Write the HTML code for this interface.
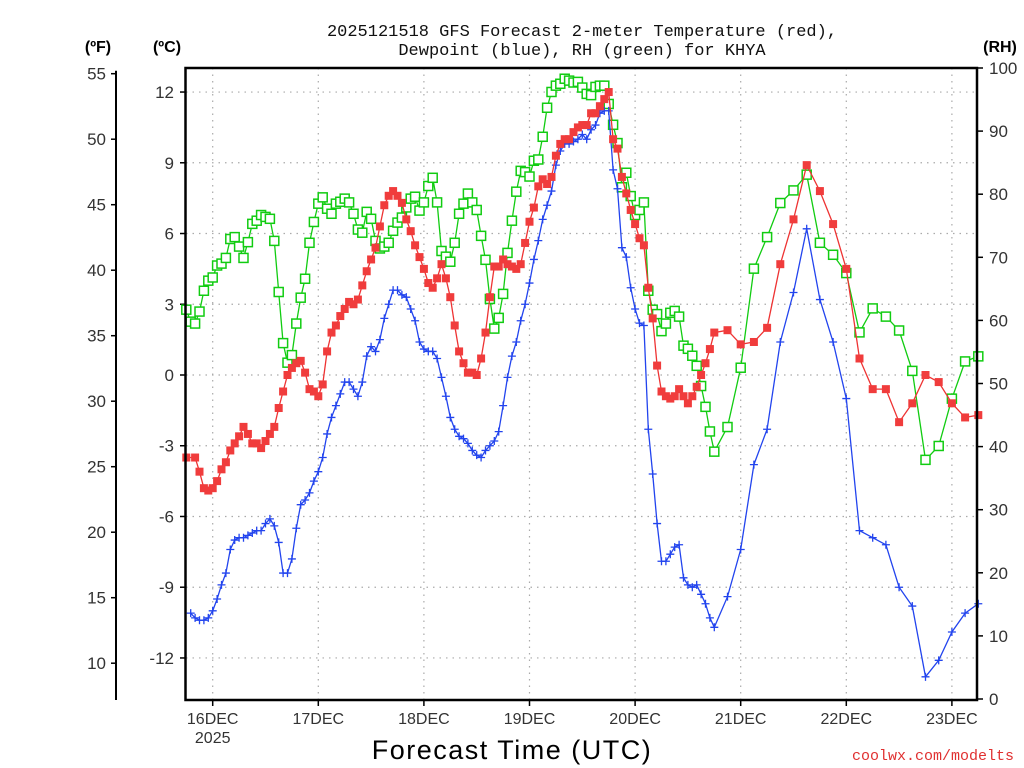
<!DOCTYPE html>
<html><head><meta charset="utf-8"><style>
html,body{margin:0;padding:0;background:#fff;}
svg{display:block;font-family:"Liberation Sans",sans-serif;}
</style></head><body>
<svg id="chart" width="1024" height="768" viewBox="0 0 1024 768" xmlns="http://www.w3.org/2000/svg">
<rect width="1024" height="768" fill="#fff"/>
<text x="582" y="36" text-anchor="middle" font-size="17" fill="#111" font-family="Liberation Mono, monospace">2025121518 GFS Forecast 2-meter Temperature (red),</text>
<text x="582" y="55" text-anchor="middle" font-size="17" fill="#111" font-family="Liberation Mono, monospace">Dewpoint (blue), RH (green) for KHYA</text>
<text x="98" y="52" text-anchor="middle" font-size="16" font-weight="bold" fill="#000">(ºF)</text>
<text x="167" y="52" text-anchor="middle" font-size="16" font-weight="bold" fill="#000">(ºC)</text>
<text x="1000" y="52" text-anchor="middle" font-size="16" font-weight="bold" fill="#000">(RH)</text>
<g id="grid"></g>
<g id="axes"></g>
<g id="series"></g>
<rect x="185.5" y="68" width="791.5" height="632" fill="none" stroke="#000" stroke-width="2.5"/>
<text x="512" y="759" text-anchor="middle" font-size="27" fill="#000" letter-spacing="1.5">Forecast Time (UTC)</text>
<text x="1014" y="760" text-anchor="end" font-size="15" fill="#e03030" font-family="Liberation Mono, monospace">coolwx.com/modelts</text>
</svg>
<script>
const dayLabels = ["16DEC","17DEC","18DEC","19DEC","20DEC","21DEC","22DEC","23DEC"];
const celsiusTicks = [-12,-9,-6,-3,0,3,6,9,12];
const fahrenheitTicks = [10,15,20,25,30,35,40,45,50,55];
const rhTicks = [0,10,20,30,40,50,60,70,80,90,100];

const tempHours = [0,2,3,4,5,6,7,8,9,10,11,12,13,14,15,16,17,18,19,20,21,22,23,24,25,26,27,28,29,30,31,32,33,34,35,36,37,38,39,40,41,42,43,44,45,46,47,48,49,50,51,52,53,54,55,56,57,58,59,60,61,62,63,64,65,66,67,68,69,70,71,72,73,74,75,76,77,78,79,80,81,82,83,84,85,86,87,88,89,90,91,92,93,94,95,96,97,98,99,100,101,102,103,104,105,106,107,108,109,110,111,112,113,114,115,116,117,118,119,120,123,126,129,132,135,138,141,144,147,150,153,156,159,162,165,168,171,174,177,180];
const tempValues = [-3.5,-3.5,-4.1,-4.8,-4.9,-4.8,-4.5,-4.0,-3.7,-3.2,-2.9,-2.6,-2.2,-2.5,-2.9,-2.9,-3.1,-2.8,-2.5,-2.2,-1.4,-0.7,0.0,0.3,0.5,0.6,0.1,-0.6,-0.7,-0.9,-0.4,1.0,1.8,2.1,2.5,2.8,3.1,3.0,3.2,3.8,4.4,4.9,5.4,6.3,7.2,7.6,7.8,7.6,7.3,6.6,6.1,5.5,5.0,4.5,3.9,3.7,4.1,4.7,4.1,3.3,2.1,1.0,0.5,0.1,0.1,0.0,0.7,1.8,3.3,4.6,4.6,4.9,4.7,4.6,4.5,4.7,5.6,6.5,7.1,8.0,8.3,8.1,8.4,9.3,9.8,10.0,10.0,10.3,10.5,10.6,10.6,11.1,11.1,11.4,11.7,12.0,10.0,9.6,8.4,7.7,7.0,6.4,5.8,5.5,3.7,2.4,0.4,-0.7,-0.9,-1.0,-0.9,-0.6,-0.9,-1.2,-0.9,-0.5,0.0,0.5,1.1,1.8,1.9,1.3,1.4,2.0,4.7,6.6,8.9,7.8,6.4,4.5,0.7,-0.6,-0.6,-2.0,-1.2,0.0,-0.3,-1.2,-1.8,-1.7];

const dewHours = [1,2,3,4,5,6,7,8,9,10,11,12,13,14,15,16,17,18,19,20,21,22,23,24,25,26,27,28,29,30,31,32,33,34,35,36,37,38,39,40,41,42,43,44,45,46,47,48,49,50,51,52,53,54,55,56,57,58,59,60,61,62,63,64,65,66,67,68,69,70,71,72,73,74,75,76,77,78,79,80,81,82,83,84,85,86,87,88,89,90,91,92,93,94,95,96,97,98,99,100,101,102,103,104,105,106,107,108,109,110,111,112,113,114,115,116,117,118,119,120,123,126,129,132,135,138,141,144,147,150,153,156,159,162,165,168,171,174,177,180];
const dewValues = [-10.1,-10.3,-10.4,-10.4,-10.3,-10.0,-9.5,-8.9,-8.4,-7.4,-7.0,-6.9,-6.9,-6.8,-6.7,-6.6,-6.6,-6.3,-6.1,-6.4,-7.1,-8.4,-8.4,-7.8,-6.5,-5.5,-5.3,-5.0,-4.5,-4.1,-3.5,-2.5,-1.8,-1.3,-0.8,-0.3,-0.3,-0.6,-0.9,-0.3,0.8,1.2,1.0,1.5,2.4,3.0,3.6,3.6,3.4,3.3,2.8,2.3,1.4,1.1,1.0,1.0,0.7,-0.1,-0.9,-1.8,-2.3,-2.6,-2.7,-2.9,-3.2,-3.4,-3.5,-3.2,-3.0,-2.8,-2.4,-1.3,-0.1,0.8,1.4,2.3,3.0,3.9,4.9,5.7,6.6,7.2,7.8,8.9,9.5,9.8,9.8,9.9,10.0,10.2,10.0,10.4,10.6,11.1,11.2,11.2,8.7,7.9,5.4,5.0,3.7,2.8,2.2,2.1,-2.3,-4.2,-6.3,-7.9,-7.9,-7.6,-7.3,-7.2,-8.6,-8.9,-9.0,-8.9,-9.3,-9.7,-10.3,-10.7,-9.4,-7.4,-3.8,-2.3,1.4,3.5,6.2,3.2,1.4,-1.0,-6.6,-6.9,-7.2,-9.0,-9.8,-12.8,-12.1,-10.9,-10.1,-9.7];

const rhHours = [0,1,2,3,4,5,6,7,8,9,10,11,12,13,14,15,16,17,18,19,20,21,22,23,24,25,26,27,28,29,30,31,32,33,34,35,36,37,38,39,40,41,42,43,44,45,46,47,48,49,50,51,52,53,54,55,56,57,58,59,60,61,62,63,64,65,66,67,68,69,70,71,72,73,74,75,76,77,78,79,80,81,82,83,84,85,86,87,88,89,90,91,92,93,94,95,96,97,98,99,100,101,102,103,104,105,106,107,108,109,110,111,112,113,114,115,116,117,118,119,120,123,126,129,132,135,138,141,144,147,150,153,156,159,162,165,168,171,174,177,180];
const rhValues = [61.7,59.8,59.5,61.4,64.7,66.3,66.8,68.7,69.0,69.9,72.9,73.2,71.7,69.9,72.4,75.3,75.8,76.7,76.4,76.1,72.6,64.5,56.4,53.3,54.5,59.5,63.6,66.6,72.3,75.6,78.5,79.5,77.7,76.9,78.5,78.8,79.3,78.7,76.9,74.4,73.9,77.2,76.1,72.6,71.4,71.7,72.3,74.2,75.5,76.3,77.9,79.3,79.6,77.4,78.7,81.3,82.6,78.7,71.0,70.1,69.3,72.3,76.9,78.5,80.1,78.7,77.5,73.4,69.6,63.4,58.7,60.4,64.2,70.7,75.8,80.4,83.7,83.5,82.8,85.3,85.5,89.1,93.7,96.2,97.2,97.5,98.3,98.0,97.7,97.8,96.9,95.9,95.7,97.0,97.2,97.2,94.3,91.0,88.1,81.1,83.4,79.7,76.7,77.5,78.7,64.7,61.7,61.0,58.3,59.5,61.2,61.5,60.6,56.0,55.5,54.4,52.8,49.6,46.3,42.4,39.2,43.1,52.5,68.2,73.2,78.6,80.6,83.1,72.3,70.4,67.5,58.1,61.9,60.6,58.4,52.0,37.9,40.1,47.6,53.5,54.3];

const NS = "http://www.w3.org/2000/svg";
const X0 = 186.3, PXH = 4.4;
function xOf(h){ return X0 + h*PXH; }
function yC(c){ return 375 - c*23.58; }
function yF(f){ return yC((f-32)/1.8); }
function yRH(r){ return 699 - r*6.31; }
function mk(tag, attrs, parent){ const e=document.createElementNS(NS,tag); for(const k in attrs) e.setAttribute(k,attrs[k]); parent.appendChild(e); return e; }

const grid = document.getElementById('grid');
const axes = document.getElementById('axes');
const series = document.getElementById('series');

// vertical day gridlines + labels
dayLabels.forEach((d,i)=>{
  const x = xOf(6 + 24*i);
  const gl = mk('line',{x1:x,y1:68,x2:x,y2:700,stroke:'#aaa','stroke-width':1.2,'stroke-dasharray':'1.5,5'},grid);
  
  
  const tk = mk('line',{x1:x,y1:700,x2:x,y2:706,stroke:'#000','stroke-width':1.5},axes);
  
  
  const t = mk('text',{x:x,y:724,'text-anchor':'middle','font-size':16,fill:'#333'},axes);
  t.textContent = d;
  
  
});
const yr = mk('text',{x:xOf(6),y:743,'text-anchor':'middle','font-size':16,fill:'#333'},axes);
yr.textContent = "2025";



// celsius ticks + horizontal grid
celsiusTicks.forEach(c=>{
  const y = yC(c);
  const gl = mk('line',{x1:186,y1:y,x2:977,y2:y,stroke:'#aaa','stroke-width':1.2,'stroke-dasharray':'1.5,5'},grid);
  
  
  const tk = mk('line',{x1:180,y1:y,x2:186,y2:y,stroke:'#000','stroke-width':1.5},axes);
  
  
  const t = mk('text',{x:174,y:y+6,'text-anchor':'end','font-size':17,fill:'#333'},axes);
  t.textContent = c;
  
  
});

// fahrenheit axis
const fl = mk('line',{x1:116,y1:yF(55)-3,x2:116,y2:700,stroke:'#000','stroke-width':2},axes);


fahrenheitTicks.forEach(f=>{
  const y = yF(f);
  const tk = mk('line',{x1:111,y1:y,x2:116,y2:y,stroke:'#000','stroke-width':1.5},axes);
  
  
  const t = mk('text',{x:106,y:y+6,'text-anchor':'end','font-size':17,fill:'#333'},axes);
  t.textContent = f;
  
  
});

// RH axis
rhTicks.forEach(r=>{
  const y = yRH(r);
  const tk = mk('line',{x1:977,y1:y,x2:983,y2:y,stroke:'#000','stroke-width':1.5},axes);
  
  
  const t = mk('text',{x:989,y:y+6,'text-anchor':'start','font-size':17,fill:'#333'},axes);
  t.textContent = r;
  
  
});

function drawLine(hours, vals, yfn, color, name){
  const pts = hours.map((h,i)=>xOf(h).toFixed(1)+','+yfn(vals[i]).toFixed(1)).join(' ');
  const pl = mk('polyline',{points:pts,fill:'none',stroke:color,'stroke-width':1.3},series);
  
  
}

// RH (green)
drawLine(rhHours, rhValues, yRH, '#11cc11', 'rh-line');
rhHours.forEach((h,i)=>{
  const x=xOf(h), y=yRH(rhValues[i]);
  const m = mk('rect',{x:x-4.5,y:y-4.5,width:9,height:9,fill:'#fff',stroke:'#11cc11','stroke-width':1.5},series);
  
  
});
// dewpoint (blue)
drawLine(dewHours, dewValues, yC, '#2244ee', 'dewpoint-line');
dewHours.forEach((h,i)=>{
  const x=xOf(h), y=yC(dewValues[i]);
  const m = mk('path',{d:`M${x-4} ${y}H${x+4}M${x} ${y-4}V${y+4}`,stroke:'#2244ee','stroke-width':1.3,fill:'none'},series);
  
  
});
// temperature (red)
drawLine(tempHours, tempValues, yC, '#ee3333', 'temperature-line');
tempHours.forEach((h,i)=>{
  const x=xOf(h), y=yC(tempValues[i]);
  const m = mk('rect',{x:x-4,y:y-4,width:8,height:8,fill:'#f03c3c'},series);
  
  
});
</script>
</body></html>
